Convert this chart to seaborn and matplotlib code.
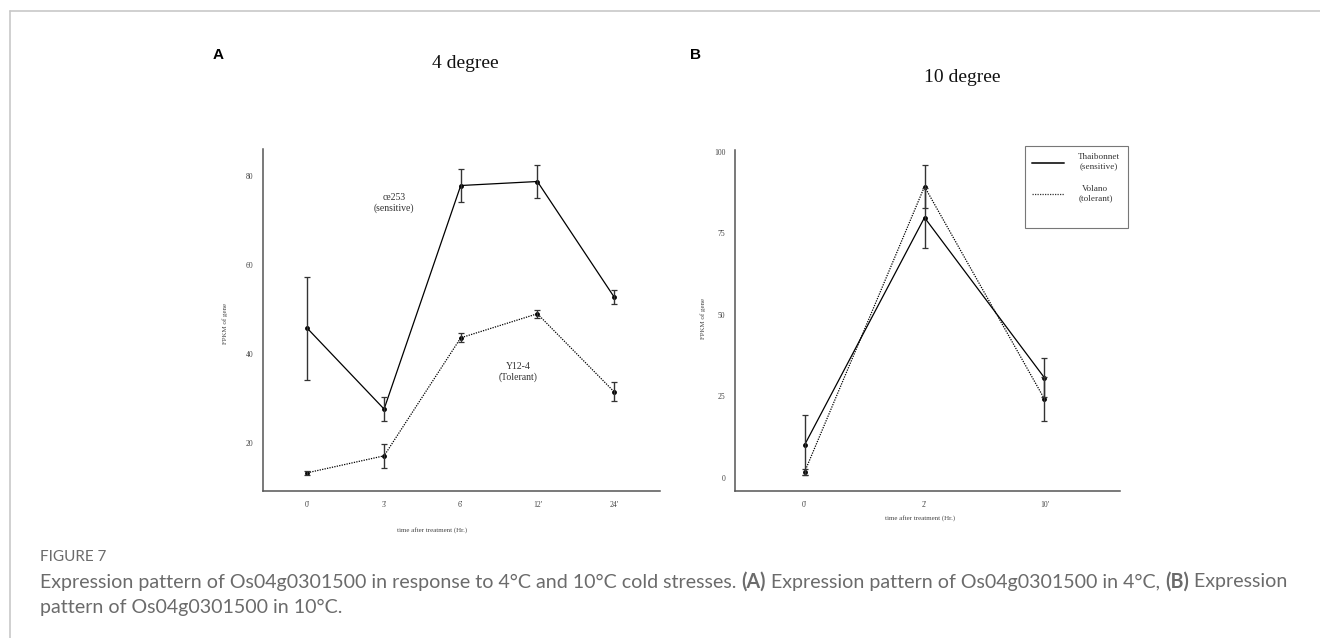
import matplotlib
matplotlib.use("Agg")
import matplotlib.pyplot as plt
import numpy as np
import pandas as pd
import seaborn as sns
from matplotlib.lines import Line2D

# panel A: 4 degree
times_a = ["0'", "3'", "6'", "12'", "24'"]
sens_a = [45.7, 27.6, 77.8, 78.7, 52.8]
sens_a_err = [11.6, 2.6, 3.6, 3.8, 1.5]
tol_a = [13.3, 17.1, 43.6, 49.0, 31.5]
tol_a_err = [0.5, 2.7, 1.0, 0.9, 2.2]

# panel B: 10 degree
times_b = ["0'", "2'", "10'"]
sens_b = [10.1, 79.8, 30.7]
sens_b_err = [9.2, 9.2, 6.0]
tol_b = [1.8, 89.3, 24.2]
tol_b_err = [1.0, 6.6, 6.7]

SERIF = "Liberation Serif"
SPINE = "#555555"


def make_frame(times, sens, sens_err, tol, tol_err, sens_name, tol_name):
    pos = np.arange(len(times))
    rows = []
    for i, t in enumerate(times):
        rows.append({"pos": pos[i], "time": t, "value": sens[i], "err": sens_err[i], "line": sens_name})
        rows.append({"pos": pos[i], "time": t, "value": tol[i], "err": tol_err[i], "line": tol_name})
    return pd.DataFrame(rows)


def draw_panel(ax, df, times, names, ylim, yticks):
    sns.lineplot(
        data=df, x="pos", y="value", style="line", style_order=names,
        dashes={names[0]: "", names[1]: (1, 1)},
        color="black", linewidth=0.9, marker="o", markersize=3.5,
        markeredgewidth=0, ax=ax, legend=False,
    )
    for name in names:
        sub = df[df["line"] == name]
        ax.errorbar(sub["pos"], sub["value"], yerr=sub["err"], fmt="none",
                    ecolor="#333333", elinewidth=1.0, capsize=2.5, capthick=0.9)
    ax.set_xticks(np.arange(len(times)))
    ax.set_xticklabels(times)
    ax.set_xlim(-0.58, len(times) - 1 + 0.6)
    ax.set_ylim(*ylim)
    ax.set_yticks(yticks)
    ax.set_xlabel("")
    ax.set_ylabel("")
    for side in ["top", "right"]:
        ax.spines[side].set_visible(False)
    for side in ["left", "bottom"]:
        ax.spines[side].set_color(SPINE)
        ax.spines[side].set_linewidth(1.1)
    ax.tick_params(axis="both", length=2, width=0.6, color=SPINE, labelsize=5.5,
                   labelcolor="#444444", pad=5)
    for lab in ax.get_xticklabels() + ax.get_yticklabels():
        lab.set_family(SERIF)
    ax.grid(False)


sns.set_theme(style="white")
plt.rcParams["font.family"] = [SERIF, "DejaVu Serif"]

fig = plt.figure(figsize=(13.2, 6.38), dpi=100)
W, H = 1320, 638


def fx(px):
    return px / W


def fy(py):
    return 1 - py / H


# panel A
ax_a = fig.add_axes([fx(263), fy(491), fx(660) - fx(263), fy(149) - fy(491)])
df_a = make_frame(times_a, sens_a, sens_a_err, tol_a, tol_a_err, "ce253", "Y12-4")
draw_panel(ax_a, df_a, times_a, ["ce253", "Y12-4"], (9.2, 86.0), [20, 40, 60, 80])
ax_a.text(1.13, 73.9, "ce253\n(sensitive)", ha="center", va="center", fontsize=7,
          color="#333333", family=SERIF, linespacing=1.15)
ax_a.text(2.75, 36.0, "Y12-4\n(Tolerant)", ha="center", va="center", fontsize=7,
          color="#333333", family=SERIF, linespacing=1.15)

# panel B
ax_b = fig.add_axes([fx(735), fy(491), fx(1120) - fx(735), fy(150) - fy(491)])
names_b = ["Thaibonnet\n(sensitive)", "Volano\n(tolerant)"]
df_b = make_frame(times_b, sens_b, sens_b_err, tol_b, tol_b_err, names_b[0], names_b[1])
draw_panel(ax_b, df_b, times_b, names_b, (-4.0, 100.5), [0, 25, 50, 75, 100])
ax_b.set_xlim(-0.58, 2.63)

handles = [Line2D([], [], color="#333333", lw=1.4, ls="-"),
           Line2D([], [], color="#333333", lw=0.9, ls=(0, (1, 1))),
           Line2D([], [], color="none")]
leg = fig.legend(handles, names_b + [""], loc="upper left",
                 bbox_to_anchor=(fx(1025), fy(146)), frameon=True, fancybox=False,
                 prop={"family": SERIF, "size": 6.6}, handlelength=3.4,
                 handleheight=0.1, handletextpad=1.6, labelspacing=1.55,
                 borderpad=0.8, borderaxespad=0)
leg.get_frame().set_edgecolor("#555555")
leg.get_frame().set_linewidth(0.8)
for t in leg.get_texts():
    t.set_multialignment("center")
    t.set_color("#333333")
leg.get_texts()[2].set_fontsize(1)

# axis labels
fig.text(fx(225), fy(323), "FPKM of gene", rotation=90, ha="center", va="center",
         fontsize=5, color="#444444", family=SERIF)
fig.text(fx(703), fy(318), "FPKM of gene", rotation=90, ha="center", va="center",
         fontsize=5, color="#444444", family=SERIF)
fig.text(fx(432), fy(530), "time after treatment (Hr.)", ha="center", va="center",
         fontsize=5, color="#444444", family=SERIF)
fig.text(fx(920), fy(518), "time after treatment (Hr.)", ha="center", va="center",
         fontsize=5, color="#444444", family=SERIF)

# titles and panel letters
fig.text(fx(465), fy(63), "4 degree", ha="center", va="center", fontsize=14,
         color="#111111", family=SERIF)
fig.text(fx(962), fy(78), "10 degree", ha="center", va="center", fontsize=14,
         color="#111111", family=SERIF)
fig.text(fx(213), fy(55), "A", ha="left", va="center", fontsize=11, fontweight="bold",
         color="black", family="Liberation Sans")
fig.text(fx(690), fy(55), "B", ha="left", va="center", fontsize=11, fontweight="bold",
         color="black", family="Liberation Sans")

# card border (top and left)
fig.add_artist(Line2D([fx(9.5), fx(9.5)], [0, fy(11)], color="#c8c8c8", lw=1.2))
fig.add_artist(Line2D([fx(9.5), 1], [fy(11), fy(11)], color="#c8c8c8", lw=1.2))

# caption
CAP = "#6b6b6b"
CAP_FONT = "Lato"
fig.text(fx(40), fy(557), "FIGURE 7", ha="left", va="center", fontsize=11,
         color=CAP, family=CAP_FONT)

line1 = [
    ("Expression pattern of Os04g0301500 in response to 4°C and 10°C cold stresses. ", "normal"),
    ("(A)", "bold"),
    (" Expression pattern of Os04g0301500 in 4°C, ", "normal"),
    ("(B)", "bold"),
    (" Expression", "normal"),
]
renderer = fig.canvas.get_renderer()
x = fx(40)
for txt, weight in line1:
    t = fig.text(x, fy(582), txt, ha="left", va="center", fontsize=14.1,
                 color=CAP, family=CAP_FONT, fontweight=weight)
    bb = t.get_window_extent(renderer=renderer)
    x = bb.x1 / fig.bbox.width
fig.text(fx(40), fy(607), "pattern of Os04g0301500 in 10°C.", ha="left", va="center",
         fontsize=14.1, color=CAP, family=CAP_FONT)

fig.savefig("out.png", dpi=100)
plt.close(fig)
